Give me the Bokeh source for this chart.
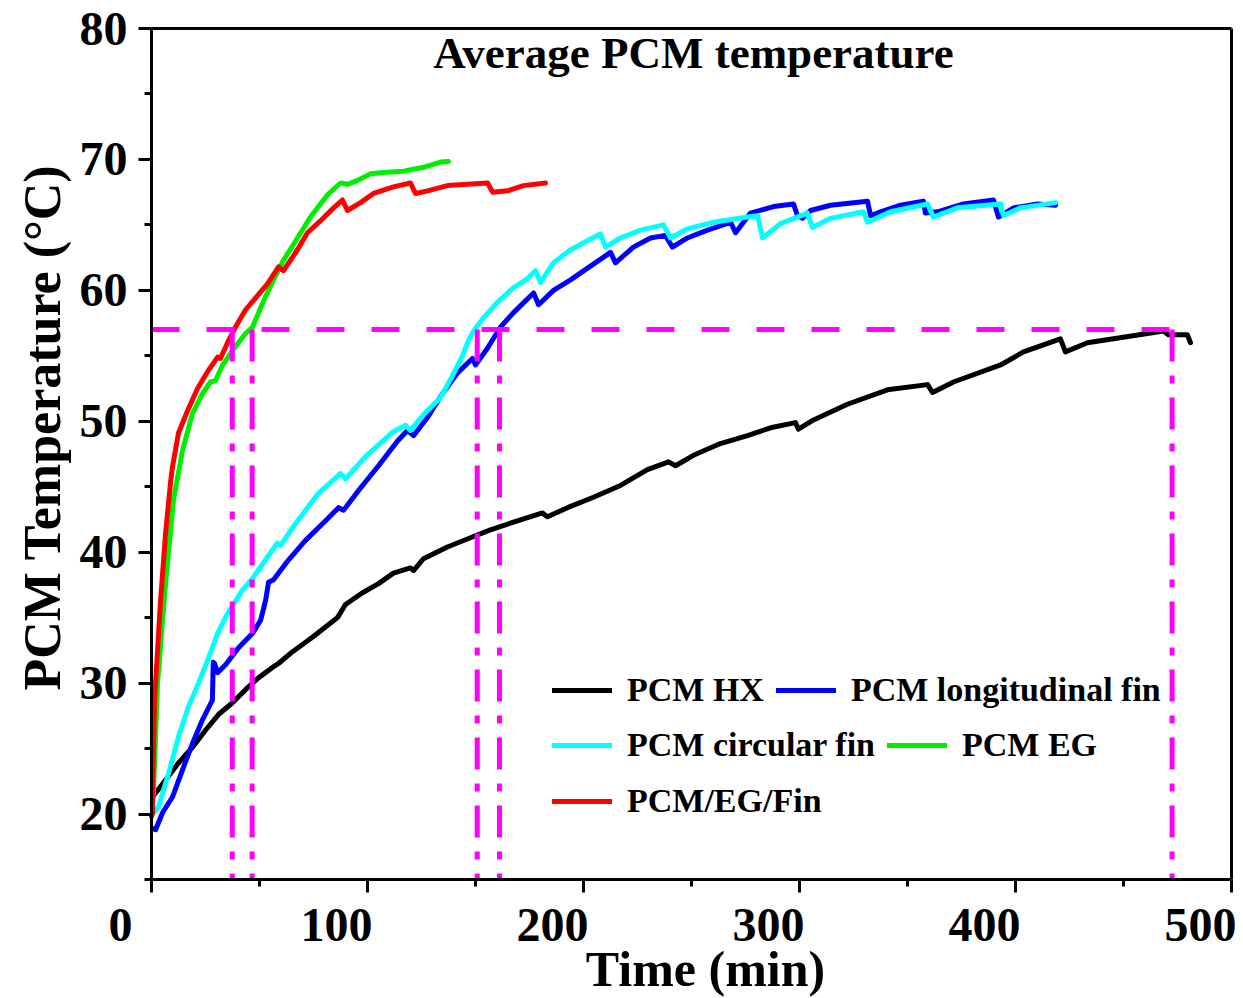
from bokeh.plotting import figure
from bokeh.models import Legend, LegendItem, Label, FixedTicker, Range1d, LinearAxis
from bokeh.core.properties import value
from bokeh.embed import file_html
from bokeh.resources import INLINE

# ---------------- data ----------------
hx_t = [0.5, 6.5, 12.5, 19.0, 25.0, 31.0, 37.5, 43.5, 49.5, 56.0, 58.8, 65.3, 74.5, 83.8, 86.1,
        89.8, 97.7, 105.1, 112.0, 119.9, 121.3, 125.9, 137.0, 149.1, 156.9, 167.6, 181.0, 183.3,
        192.6, 204.6, 217.1, 229.6, 239.4, 242.6, 250.9, 263.4, 275.9, 286.6, 298.1, 299.5, 306.5,
        322.2, 340.7, 359.3, 361.6, 371.3, 393.1, 403.7, 420.8, 423.1, 433.3, 445.4, 461.1, 468.5,
        470.8, 479.6, 481.0]
hx_T = [21.3, 22.6, 23.9, 25.1, 26.4, 27.6, 28.5, 29.5, 30.4, 31.2, 31.5, 32.4, 33.5, 34.7, 35.0,
        36.0, 36.9, 37.6, 38.4, 38.8, 38.6, 39.5, 40.4, 41.2, 41.7, 42.3, 43.0, 42.7,
        43.4, 44.2, 45.1, 46.3, 46.9, 46.6, 47.4, 48.3, 48.9, 49.5, 49.9, 49.4, 50.1,
        51.3, 52.4, 52.8, 52.2, 53.0, 54.3, 55.3, 56.3, 55.3, 56.0, 56.3, 56.7, 56.9,
        56.6, 56.6, 56.0]

lfin_t = [0.5, 1.9, 5.1, 9.7, 14.4, 19.0, 23.6, 28.2, 28.6, 29.2, 30.6, 34.3, 40.3, 46.8, 50.5,
          52.8, 54.2, 56.5, 63.4, 71.3, 80.6, 86.6, 88.9, 95.8, 105.1, 113.9, 118.5, 121.3, 127.8,
          134.7, 141.7, 148.6, 150.0, 155.6, 161.6, 167.6, 176.9, 179.2, 186.1, 194.0, 201.9, 212.5,
          214.8, 223.1, 231.0, 237.9, 241.2, 248.1, 257.4, 268.1, 270.4, 277.3, 288.0, 297.2, 299.1,
          301.4, 305.1, 314.4, 331.5, 332.9, 337.5, 346.8, 357.4, 358.3, 363.9, 375.9, 389.8, 392.1,
          399.1, 410.2, 418.5]
lfin_T = [18.9, 18.8, 20.1, 21.3, 23.4, 25.4, 27.2, 28.7, 31.6, 31.5, 30.8, 31.4, 32.7, 33.8, 34.8,
          36.3, 37.7, 37.9, 39.4, 40.9, 42.4, 43.4, 43.2, 44.7, 46.6, 48.5, 49.3, 48.9, 50.3,
          52.1, 53.7, 54.8, 54.3, 55.6, 57.2, 58.3, 59.8, 58.9, 60.0, 60.8, 61.7, 62.9,
          62.1, 63.3, 64.0, 64.2, 63.3, 64.0, 64.6, 65.2, 64.4, 65.9, 66.4, 66.6, 65.7,
          65.5, 66.1, 66.5, 66.8, 65.7, 66.0, 66.5, 66.8, 65.9, 66.0, 66.6, 66.9, 65.6,
          66.3, 66.6, 66.5]

cfin_t = [0.9, 3.2, 7.9, 12.5, 17.1, 21.8, 27.3, 30.6, 35.2, 42.1, 46.8, 52.8, 58.3, 59.7, 66.7,
          77.3, 87.5, 89.8, 99.1, 105.1, 112.0, 117.6, 119.9, 125.9, 133.8, 139.4, 144.0, 146.8,
          149.1, 153.7, 160.2, 167.6, 174.1, 177.8, 180.1, 186.1, 194.0, 201.9, 207.9, 210.2, 217.1,
          226.4, 237.0, 240.3, 248.1, 260.2, 275.9, 280.6, 282.9, 291.2, 303.7, 306.0, 314.4, 329.6,
          331.5, 342.1, 359.3, 362.0, 373.1, 393.1, 394.4, 402.3, 418.5]
cfin_T = [20.1, 20.5, 23.1, 25.9, 28.2, 30.0, 32.3, 33.8, 35.3, 37.1, 38.0, 39.4, 40.7, 40.5, 42.2,
          44.5, 46.0, 45.6, 47.3, 48.2, 49.2, 49.7, 49.3, 50.5, 51.8, 53.5, 55.0, 56.2,
          56.9, 57.9, 59.1, 60.2, 60.9, 61.5, 60.6, 62.1, 63.1, 63.8, 64.3, 63.3, 64.0,
          64.6, 65.0, 64.0, 64.7, 65.2, 65.6, 65.7, 64.0, 65.1, 65.9, 64.8, 65.5, 66.0,
          65.2, 66.0, 66.6, 65.6, 66.3, 66.6, 65.7, 66.3, 66.7]

eg_t = [0.3, 0.9, 2.8, 6.5, 10.2, 14.4, 19.0, 23.6, 27.3, 29.6, 32.9, 37.5, 43.5, 46.8, 51.9,
        56.5, 61.1, 67.6, 73.6, 81.5, 87.5, 90.7, 95.4, 101.4, 107.4, 116.7, 125.9, 133.8, 137.5]
eg_T = [20.8, 21.6, 30.0, 37.6, 44.0, 47.8, 50.6, 52.1, 53.0, 53.1, 54.3, 55.4, 56.7, 57.2, 59.2,
        60.8, 62.3, 64.0, 65.6, 67.3, 68.2, 68.1, 68.4, 68.9, 69.0, 69.1, 69.4, 69.8, 69.85]

egfin_t = [0.0, 0.5, 0.6, 1.4, 4.2, 6.5, 8.8, 9.7, 12.5, 16.7, 21.3, 26.4, 30.6, 31.9, 35.2, 38.9,
           43.5, 49.1, 53.7, 58.8, 61.1, 67.6, 72.2, 78.2, 84.3, 88.4, 90.7, 96.8, 102.8, 112.0,
           119.9, 122.2, 127.8, 137.0, 155.6, 157.9, 164.8, 172.2, 182.4]
egfin_T = [19.8, 20.1, 22.4, 28.7, 36.3, 41.4, 45.3, 46.5, 49.1, 50.8, 52.5, 53.9, 54.9, 54.8, 56.0,
           57.2, 58.5, 59.6, 60.5, 61.8, 61.5, 63.1, 64.4, 65.3, 66.3, 66.9, 66.1, 66.7, 67.4,
           67.9, 68.2, 67.4, 67.6, 68.0, 68.2, 67.5, 67.6, 68.0, 68.2]

threshold_T = 57
cross_times = [37.4, 46.6, 150.8, 161.1, 472.5]

x_ticks = [0, 100, 200, 300, 400, 500]
y_ticks = [20, 30, 40, 50, 60, 70, 80]

series = [
    ("PCM HX", hx_t, hx_T, "#000000"),
    ("PCM longitudinal fin", lfin_t, lfin_T, "#0000FF"),
    ("PCM circular fin", cfin_t, cfin_T, "#00FFFF"),
    ("PCM EG", eg_t, eg_T, "#00EE00"),
    ("PCM/EG/Fin", egfin_t, egfin_T, "#FF0000"),
]

FONT = "Liberation Serif"
X0, X1, Y0, Y1 = 0, 500, 15, 80

# ---------------- layout numbers (pixels) ----------------
# The frame covers the whole canvas; the data box (0..500 x 15..80) is drawn with
# axes at fixed locations so that all texts can be placed in one coordinate system.
W, H = 1235, 997
LEFT, TOP = 151, 28                 # data box corner in canvas pixels
BOX_W, BOX_H = 1080, 851
PXX = BOX_W / (X1 - X0)
PXY = BOX_H / (Y1 - Y0)
TEXT_DROP = 18                      # measured drop of glyph text below its anchor

def ux(px):   # canvas px -> x data
    return X0 + (px - LEFT) / PXX

def uy(py):   # canvas px -> y data
    return Y1 - (py - TOP) / PXY

p = figure(width=W, height=H, output_backend="svg", toolbar_location=None,
           x_range=Range1d(ux(0), ux(W)), y_range=Range1d(uy(H), uy(0)),
           x_axis_location=None, y_axis_location=None,
           min_border_left=0, min_border_right=0, min_border_top=0, min_border_bottom=0)
p.title_location = None
p.grid.visible = False
p.outline_line_color = None
p.background_fill_color = "white"
p.border_fill_color = "white"

def styled_axis(**kw):
    ax = LinearAxis(axis_line_width=3, axis_line_color="black",
                    major_tick_line_width=3, minor_tick_line_width=3,
                    major_tick_out=13, major_tick_in=0, minor_tick_out=7, minor_tick_in=0,
                    major_label_text_font=FONT, major_label_text_font_style="bold", **kw)
    return ax

xaxis = styled_axis(fixed_location=Y0, bounds=(X0, X1),
                    ticker=FixedTicker(ticks=x_ticks, minor_ticks=[v + 50 for v in x_ticks[:-1]]),
                    major_label_text_color=None, major_label_text_font_size="2px",
                    major_label_standoff=0)
yaxis = styled_axis(fixed_location=X0, bounds=(Y0, Y1),
                    ticker=FixedTicker(ticks=y_ticks, minor_ticks=[v - 5 for v in y_ticks]),
                    major_label_text_font_size="48px", major_label_text_color="black",
                    major_label_standoff=11)
top_axis = styled_axis(fixed_location=Y1, bounds=(X0, X1), ticker=FixedTicker(ticks=[]),
                       major_label_text_color=None, major_label_text_font_size="2px")
right_axis = styled_axis(fixed_location=X1, bounds=(Y0, Y1), ticker=FixedTicker(ticks=[]),
                         major_label_text_color=None, major_label_text_font_size="2px")
p.add_layout(xaxis, "below")
p.add_layout(yaxis, "left")
p.add_layout(top_axis, "above")
p.add_layout(right_axis, "right")

# curves
renderers = {}
for name, t, T, col in series:
    renderers[name] = p.line(t, T, line_color=col, line_width=5, line_join="round",
                             line_cap="round")

# reference lines
p.line([X0, max(cross_times)], [threshold_T, threshold_T], line_color="#FF00FF",
       line_width=5, line_dash="28 27")
p.segment(x0=cross_times, y0=[threshold_T] * len(cross_times), x1=cross_times,
          y1=[Y0] * len(cross_times), line_color="#FF00FF", line_width=5,
          line_dash="32 14 8 14")

# title inside the box
p.add_layout(Label(x=250.9, y=78.15, text="Average PCM temperature", text_align="center",
                   text_baseline="alphabetic", text_font=FONT, text_font_style="bold",
                   text_font_size="45px", text_color="black"))

# x tick labels (sit ~31 px left of their ticks in the reference)
shift = 31 / PXX
p.text(x=[v - shift for v in x_ticks], y=[uy(942 - TEXT_DROP)] * len(x_ticks),
       text=[str(v) for v in x_ticks], text_font=value(FONT), text_font_style="bold",
       text_font_size="48px", text_align="center", text_baseline="alphabetic",
       text_color="black")

# axis titles
p.text(x=[ux(705)], y=[uy(986 - TEXT_DROP)], text=["Time (min)"], text_font=value(FONT),
       text_font_style="bold", text_font_size="50px", text_align="center",
       text_baseline="alphabetic", text_color="black")
p.text(x=[ux(42)], y=[uy(427)], text=["PCM Temperature (°C)"], angle=90, angle_units="deg",
       text_font=value(FONT), text_font_style="bold", text_font_size="52px",
       text_align="center", text_baseline="middle", text_color="black")

# legends (three rows); location is measured from the canvas bottom-left
rows = [["PCM HX", "PCM longitudinal fin"], ["PCM circular fin", "PCM EG"], ["PCM/EG/Fin"]]
row_centers = [690, 745, 801]
for names, yc in zip(rows, row_centers):
    lg = Legend(items=[LegendItem(label=n, renderers=[renderers[n]]) for n in names],
                orientation="horizontal", location=(552, H - yc - 20),
                glyph_width=60, glyph_height=40, label_height=40, label_standoff=15,
                spacing=12, padding=0, margin=0, border_line_color=None,
                background_fill_alpha=0, label_text_font=FONT,
                label_text_font_style="bold", label_text_font_size="34px",
                label_text_color="black")
    p.add_layout(lg)

open("out.html", "w").write(file_html(p, INLINE))
